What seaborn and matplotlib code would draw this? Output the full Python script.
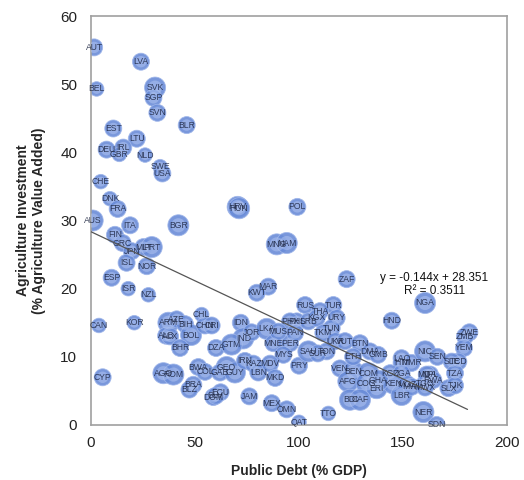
import matplotlib
matplotlib.use("Agg")
import matplotlib.pyplot as plt
import seaborn as sns
import pandas as pd
import numpy as np

countries = ["AUT","LVA","BEL","SVK","SGP","SVN","BLR","EST","LTU","DEU","IRL","GBR","NLD",
             "SWE","USA","CHE","DNK","FRA","AUS","ITA","BGR","FIN","GRC","MLT","PRT","JPN",
             "ISL","NOR","ESP","ISR","NZL","CAN","KOR","CYP","ARM","AZE","BIH","ALB","ALX",
             "BOL","BHR","AGO","ROM","BRA","BLZ","CHL","CHN","CRI","IDN","IND","JOR","LKA",
             "DZA","GTM","MNE","PER","MYS","BWA","COL","GEO","GAB","GUY","IRN","KAZ","LBN",
             "MDV","MKD","PRY","DOM","ECU","SLV","JAM","MEX","OMN","QAT","HRV","HUN","POL",
             "MNG","NAM","ZAF","MAR","KWT","RUS","TUR","THA","PHL","SRB","URY","KGX","TUN",
             "TKM","UKR","VUT","BTN","SAU","TON","SUR","PHX","PAN","MUS","VEN","BEN","COM",
             "AFG","COG","ERI","BDI","CAF","TTO","HND","DMA","ETH","GMB","LAO","HTI","MMR",
             "KGZ","UGA","KEN","GHA","MOZ","LBR","MWI","TGO","NPL","NIC","SEN","ZWE","ZMB",
             "YEM","TCD","SLE","TZA","RWA","MDA","SLX","TJK","MWX","NER","SDN","NGA"]
public_debt = [1.5,24.0,2.7,30.8,30.0,31.9,46.0,10.7,22.0,7.5,15.5,13.6,26.0,
               33.2,34.3,4.7,9.1,12.8,0.8,18.8,42.0,11.5,15.2,25.2,29.2,19.6,
               17.1,26.8,9.9,17.9,27.6,3.8,20.8,5.6,37.2,41.2,45.2,36.1,38.0,
               48.1,42.8,34.8,39.6,49.2,47.3,53.2,54.8,58.0,72.0,73.2,77.2,84.5,
               60.1,67.6,87.7,95.7,92.5,51.6,54.8,65.2,62.0,69.2,74.0,78.0,80.4,
               86.1,88.5,100.0,58.8,62.3,60.0,76.1,86.9,94.1,100.0,70.5,71.2,99.2,
               89.3,94.1,122.9,85.2,79.7,102.9,116.5,110.1,98.9,104.5,118.1,108.5,115.7,
               111.7,117.3,122.1,129.3,104.5,113.3,109.0,95.7,98.1,90.0,119.7,126.1,133.3,
               123.7,132.5,137.3,124.5,129.3,114.1,144.6,134.1,126.0,138.0,149.3,149.3,154.1,
               143.8,149.3,145.3,138.0,152.0,149.3,154.1,160.6,163.0,160.6,166.5,181.9,179.8,
               179.3,176.6,173.4,175.0,164.6,161.4,171.8,175.0,160.6,159.8,166.2,160.6]
ag_investment = [55.4,53.3,49.3,49.5,48.0,45.8,44.0,43.5,42.0,40.4,40.7,39.7,39.6,
                 37.9,36.9,35.7,33.2,31.7,30.0,29.3,29.3,27.9,26.7,26.1,26.1,25.5,
                 23.8,23.3,21.6,20.0,19.1,14.6,15.0,7.0,15.0,15.5,14.8,13.1,13.0,
                 13.2,11.3,7.6,7.4,5.9,5.2,16.2,14.6,14.6,15.0,12.7,13.6,14.1,
                 11.3,11.8,12.0,12.0,10.3,8.5,7.8,8.5,7.7,7.7,9.4,9.0,7.7,
                 9.0,6.9,8.7,4.1,4.8,4.3,4.2,3.2,2.3,0.4,32.0,31.8,32.0,
                 26.5,26.7,21.4,20.3,19.4,17.6,17.6,16.7,15.2,15.2,15.7,15.7,14.2,
                 13.5,12.3,12.3,12.0,10.8,10.8,10.5,15.2,13.5,13.7,8.3,7.8,7.6,
                 6.4,6.1,5.4,3.7,3.7,1.7,15.3,10.8,10.0,10.3,9.8,9.1,9.1,
                 7.6,7.6,6.1,6.5,6.0,4.4,5.6,6.1,7.4,10.8,10.0,13.6,13.0,
                 11.3,9.3,9.3,7.6,6.6,7.4,5.4,5.8,5.5,1.9,0.0,17.9]
bubble_size = [2,2,1,3,2,2,2,2,2,2,2,1,1,
               1,2,1,1,2,3,2,3,2,2,2,3,2,
               2,2,2,1,1,1,1,2,3,2,2,2,2,
               3,2,3,3,2,2,1,2,2,2,3,2,3,
               2,3,2,2,2,2,2,3,2,3,2,2,2,
               2,2,2,2,2,2,2,2,2,1,3,3,2,
               3,3,2,2,2,2,2,2,2,2,2,2,2,
               2,2,2,2,3,2,2,2,2,2,2,3,3,
               3,3,3,3,3,1,2,2,2,2,2,2,2,
               2,2,3,3,2,3,2,2,2,3,2,2,2,
               2,2,2,2,2,2,2,2,2,3,2,3]
trend_slope = -0.144
trend_intercept = 28.351
trend_label = "y = -0.144x + 28.351\nR² = 0.3511"
x_ticks = [0, 50, 100, 150, 200]
y_ticks = [0, 10, 20, 30, 40, 50, 60]

df = pd.DataFrame({"country": countries, "debt": public_debt,
                   "invest": ag_investment, "size": bubble_size})

sns.set_style("white")
plt.rcParams['font.family'] = ['Liberation Sans', 'DejaVu Sans']

fig = plt.figure(figsize=(5.24, 4.8), dpi=100)
ax = fig.add_axes([0.1737, 0.1146, 0.7939, 0.852])

size_map = {1: 110, 2: 150, 3: 230}
sns.scatterplot(data=df, x="debt", y="invest", size="size", sizes=size_map,
                color="#6a8cd8", edgecolor="#9fb6ea", linewidth=0.6, alpha=0.9,
                legend=False, ax=ax, zorder=2)
# inner lighter highlight for glossy bubble look
ax.scatter(df["debt"], df["invest"], s=[size_map[v] * 0.45 for v in df["size"]],
           color="#b3c6f1", alpha=0.5, linewidths=0, zorder=3)

for c, xv, yv in zip(countries, public_debt, ag_investment):
    ax.text(xv, yv, c, fontsize=6.2, color="#1c2540", ha="center", va="center",
            alpha=0.85, zorder=4)

xs = np.array([0, 181])
ax.plot(xs, trend_intercept + trend_slope * xs, color="#555555", lw=0.9, zorder=5)
ax.text(165, 20.6, trend_label, fontsize=8.5, ha="center", va="center",
        color="#111111", linespacing=1.05, zorder=6)

ax.set_xlim(0, 200)
ax.set_ylim(0, 60)
ax.set_xticks(x_ticks)
ax.set_yticks(y_ticks)
ax.tick_params(axis="x", labelsize=11, length=0, pad=8, colors="#222222")
ax.tick_params(axis="y", labelsize=11, length=0, pad=10, colors="#222222")
for s in ax.spines.values():
    s.set_color("#a0a0a0")
    s.set_linewidth(1.2)
ax.set_xlabel("Public Debt (% GDP)", fontsize=10, fontweight="bold", labelpad=10)
ax.set_ylabel("Agriculture Investment\n(% Agriculture Value Added)", fontsize=10,
              fontweight="bold", labelpad=10)

fig.savefig("out.png", dpi=100)
